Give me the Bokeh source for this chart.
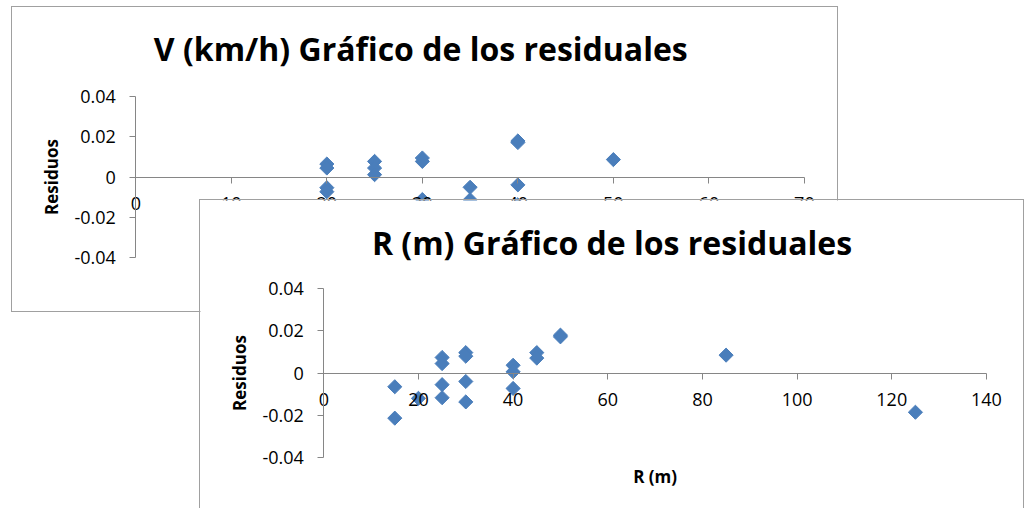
from bokeh.plotting import figure
from bokeh.layouts import column
from bokeh.models import Range1d, FixedTicker, CustomJSTickFormatter, Label
from bokeh.embed import file_html
from bokeh.resources import INLINE
import math

# ---------------- data ----------------
v_title = "V (km/h) Gráfico de los residuales"
v_kmh = [20, 20, 20, 20, 25, 25, 25, 30, 30, 30, 35, 35, 40, 40, 40, 40, 50]
res_v = [0.0065, 0.0045, -0.0053, -0.0073, 0.0078, 0.0045, 0.0012,
         0.0095, 0.0078, -0.0112, -0.0051, -0.0113,
         0.0180, 0.0172, -0.0039, -0.0138, 0.0087]
v_xticks = [0, 10, 20, 30, 40, 50, 60, 70]

r_title = "R (m) Gráfico de los residuales"
r_m = [15, 15, 20, 25, 25, 25, 25, 30, 30, 30, 30, 40, 40, 40, 45, 45, 50, 50, 85, 125]
res_r = [-0.0065, -0.0214, -0.0120, 0.0074, 0.0045, -0.0055, -0.0117,
         0.0097, 0.0080, -0.0040, -0.0137, 0.0037, 0.0006, -0.0073,
         0.0097, 0.0071, 0.0180, 0.0172, 0.0085, -0.0186]
r_xticks = [0, 20, 40, 60, 80, 100, 120, 140]

y_ticks = [-0.04, -0.02, 0, 0.02, 0.04]
y_label = "Residuos"
r_xlabel = "R (m)"

FONT = "Open Sans"
AX = "#868686"
BLUE = "#4a7ebb"
BORDER = "1px solid #a0a0a0"

yfmt = CustomJSTickFormatter(code="return tick == 0 ? '0' : tick.toFixed(2);")


def make_chart(W, H, xmax, plot_box, xticks, xs, ys, title, title_pos,
               xlabel=None, xlabel_base=None):
    """plot_box = (left, top, right, bottom) pixel position of the data area
    (x: 0..xmax, y: -0.04..0.04) inside a canvas of W x H. The frame covers the
    whole canvas so that the axes crossing at 0 are never clipped."""
    L, T, R, B = plot_box
    ymin, ymax = y_ticks[0], y_ticks[-1]
    kx = (R - L) / xmax
    ky = (B - T) / (ymax - ymin)
    x0 = -L / kx
    x1 = xmax + (W - R) / kx
    y1 = ymax + T / ky
    y0 = ymin - (H - B) / ky

    def dx(px):
        return x0 + px / kx

    def dy(py):
        return y1 - py / ky

    p = figure(width=W + 2, height=H + 1, output_backend="svg",
               toolbar_location=None, x_range=Range1d(x0, x1),
               y_range=Range1d(y0, y1), min_border=0)
    p.background_fill_color = "white"
    p.border_fill_color = "white"
    p.outline_line_color = None
    p.xgrid.visible = False
    p.ygrid.visible = False
    for ax in (p.xaxis[0], p.yaxis[0]):
        ax.fixed_location = 0
        ax.axis_line_color = AX
        ax.major_tick_line_color = AX
        ax.minor_tick_line_color = None
        ax.major_tick_out = 6
        ax.major_tick_in = 0
        ax.major_label_standoff = 14
        ax.major_label_text_font = FONT
        ax.major_label_text_font_size = "18px"
        ax.major_label_text_color = "black"
        ax.axis_label_text_font = FONT
        ax.axis_label_text_font_size = "17px"
        ax.axis_label_text_font_style = "bold"
        ax.axis_label_text_color = "black"
    p.xaxis[0].ticker = FixedTicker(ticks=xticks)
    p.xaxis[0].bounds = (0, xmax)
    p.yaxis[0].ticker = FixedTicker(ticks=y_ticks)
    p.yaxis[0].formatter = yfmt
    p.yaxis[0].bounds = (ymin, ymax)
    p.yaxis[0].axis_label = y_label
    p.yaxis[0].axis_label_standoff = 8

    tx, tb = title_pos
    p.add_layout(Label(x=dx(tx), y=dy(tb), text=title, text_font=FONT,
                       text_font_size="32px", text_font_style="bold",
                       text_color="black", text_align="left",
                       text_baseline="alphabetic"))
    if xlabel:
        p.add_layout(Label(x=xmax / 2, y=dy(xlabel_base), text=xlabel,
                           text_font=FONT, text_font_size="17px",
                           text_font_style="bold", text_color="black",
                           text_align="center", text_baseline="alphabetic"))
    p.scatter(xs, ys, marker="square", angle=math.pi / 4, size=10,
              fill_color=BLUE, line_color=BLUE)
    return p


# ---------------- back chart (V) ----------------
p1 = make_chart(825, 305, 70, (123, 89, 790, 249), v_xticks, v_kmh, res_v,
                v_title, (141, 41))
p1.margin = (6, 0, 0, 11)
p1.styles = {"border": BORDER}

# ---------------- front chart (R) ----------------
p2 = make_chart(823, 308, 140, (123, 88, 784, 256), r_xticks, r_m, res_r,
                r_title, (171, 42), r_xlabel, 275)
p2.margin = (-113, 0, 0, 199)
p2.styles = {"border-left": BORDER, "border-top": BORDER,
             "border-right": BORDER, "position": "relative", "z-index": "1"}

layout = column(p1, p2)
open("out.html", "w").write(file_html(layout, INLINE))
